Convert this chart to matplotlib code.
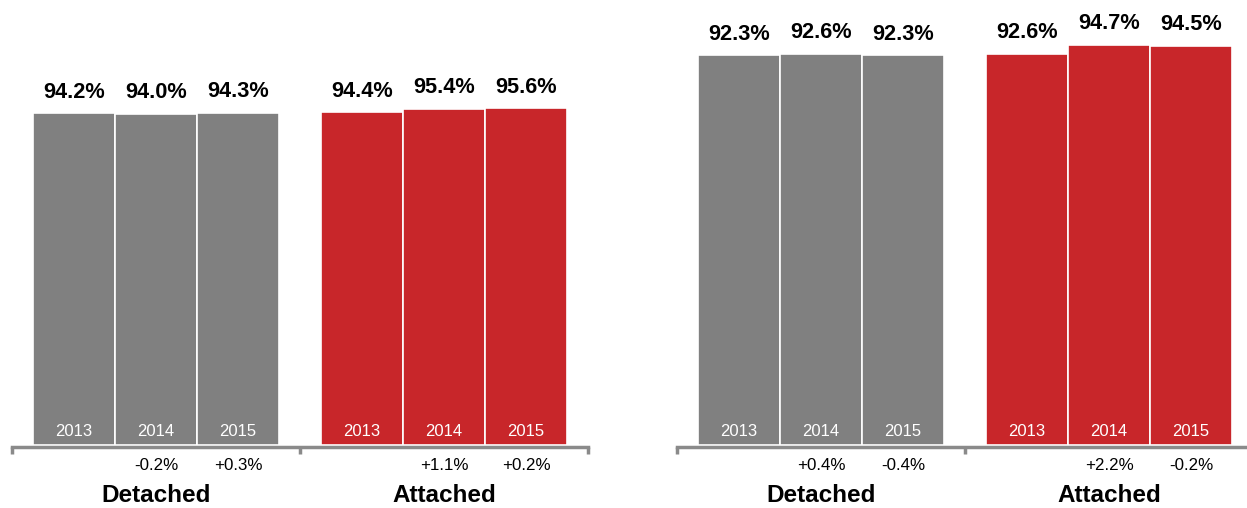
import matplotlib
matplotlib.use("Agg")
import matplotlib.pyplot as plt

plt.rcParams['font.family'] = ['Liberation Sans', 'DejaVu Sans']

groups = ["Detached", "Attached"]
years = ["2013", "2014", "2015"]

left_values = [[94.2, 94.0, 94.3], [94.4, 95.4, 95.6]]
left_changes = [["", "-0.2%", "+0.3%"], ["", "+1.1%", "+0.2%"]]
right_values = [[92.3, 92.6, 92.3], [92.6, 94.7, 94.5]]
right_changes = [["", "+0.4%", "-0.4%"], ["", "+2.2%", "-0.2%"]]

group_colors = ["#808080", "#C8262A"]
axis_color = "#8A8A8A"

W, H = 1247, 508
fig = plt.figure(figsize=(W / 100, H / 100), dpi=100)

px2pt = 72 / 100.0
bar_w = 247 / 289 / 3


def panel(x0px, px_per_unit, values, changes):
    ax = fig.add_axes([x0px / W, 63 / H, 576 / W, 445 / H])
    ax.set_xlim(0, 2)
    ax.set_ylim(0, 445 / px_per_unit)
    for s in ["top", "left", "right"]:
        ax.spines[s].set_visible(False)
    ax.spines["bottom"].set_color(axis_color)
    ax.spines["bottom"].set_linewidth(2.5)
    ax.spines["bottom"].set_position(("outward", 1.2))
    ax.set_yticks([])
    ax.set_xticks([0, 1, 2])
    ax.set_xticklabels([])
    ax.tick_params(axis="x", direction="out", length=5, width=2.5, color=axis_color)
    for gi, g in enumerate(groups):
        for j, y in enumerate(years):
            xc = gi + 0.5 + (j - 1) * bar_w
            v = values[gi][j]
            ax.bar(xc, v, width=bar_w, color=group_colors[gi], edgecolor="white",
                   linewidth=1.2, clip_on=False)
            ax.annotate(f"{v:.1f}%", xy=(xc, v), xytext=(0, 15.5 * px2pt),
                        textcoords="offset points", ha="center", va="baseline",
                        fontsize=15.7, fontweight="bold", color="black",
                        annotation_clip=False)
            ax.annotate(y, xy=(xc, 0), xytext=(0, 13.5 * px2pt),
                        textcoords="offset points", ha="center", va="center",
                        fontsize=12, color="white", annotation_clip=False)
            if changes[gi][j]:
                ax.annotate(changes[gi][j], xy=(xc, 0), xytext=(0, -20.5 * px2pt),
                            textcoords="offset points", ha="center", va="center",
                            fontsize=12.2, color="black", annotation_clip=False)
        ax.annotate(g, xy=(gi + 0.5, 0), xytext=(0, -51 * px2pt),
                    textcoords="offset points", ha="center", va="center",
                    fontsize=17.5, fontweight="bold", color="black",
                    annotation_clip=False)
    return ax


panel(12, 3.524, left_values, left_changes)
panel(677, 4.225, right_values, right_changes)

fig.savefig("out.png", dpi=100)
